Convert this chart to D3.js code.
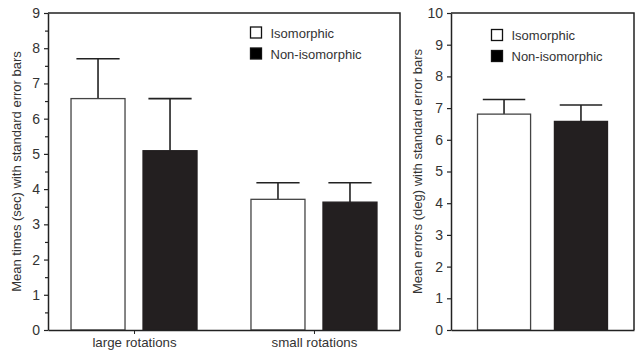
<!DOCTYPE html>
<html>
<head>
<meta charset="utf-8">
<script src="https://cdn.jsdelivr.net/npm/d3@7"></script>
<style>
  body { margin: 0; background: #fff; }
  text { font-family: "Liberation Sans", Arial, sans-serif; fill: #333; }
</style>
</head>
<body>
<svg id="chart" width="639" height="353"></svg>
<script>
///////////////////// DATA /////////////////////////
let groups = ["Isomorphic", "Non-isomorphic"];
let rotations = ["large rotations", "small rotations"];
let time_means = [[6.57, 5.09], [3.71, 3.63]];   // [rotation][group]
let time_upper = [[7.70, 6.57], [4.18, 4.18]];
let time_ticks = [0, 1, 2, 3, 4, 5, 6, 7, 8, 9];
let error_means = [6.81, 6.58];
let error_upper = [7.27, 7.10];
let error_ticks = [0, 1, 2, 3, 4, 5, 6, 7, 8, 9, 10];

let fills = ["#ffffff", "#231f20"];
let ink = "#222";

let svg = d3.select("#chart");

// draws one framed panel; rows = [{cat, means, upper}]
let panel = (opt) => {
    let g = svg.append("g");

    let y_scale = d3.scaleLinear().domain(opt.ydomain).range([opt.bottom, opt.top]);
    let x_scale = d3.scalePoint()
        .domain(opt.cats)
        .range([opt.left, opt.right])
        .padding(opt.outer);
    let sub = d3.scaleBand()
        .domain(groups)
        .range([-opt.half, opt.half])
        .paddingInner(opt.gap);

    // minor ticks (left panel only)
    if (opt.minor) {
        g.append("g")
            .attr("transform", `translate(${opt.left},0)`)
            .call(d3.axisLeft(y_scale).tickValues(opt.minor).tickSize(3).tickFormat(""))
            .call(a => a.select(".domain").remove())
            .selectAll("line").attr("stroke", ink).attr("stroke-width", 1.2);
    }

    let ya = g.append("g")
        .attr("transform", `translate(${opt.left},0)`)
        .call(d3.axisLeft(y_scale).tickValues(opt.ticks).tickSize(4).tickPadding(4).tickSizeOuter(0));
    ya.select(".domain").attr("stroke", ink).attr("stroke-width", 1.5);
    ya.selectAll("line").attr("stroke", ink).attr("stroke-width", 1.2);
    ya.selectAll("text").style("font-size", "14px").attr("fill", "#333");

    // frame top and right
    g.append("path")
        .attr("d", `M${opt.left},${opt.top}H${opt.right}V${opt.bottom}`)
        .attr("fill", "none").attr("stroke", ink).attr("stroke-width", 1.5);

    // bars
    opt.rows.forEach(r => {
        let cx = x_scale(r.cat);
        groups.forEach((gname, i) => {
            let x0 = cx + sub(gname);
            let w = sub.bandwidth();
            let xm = x0 + w / 2;
            // error bar (upward only)
            g.append("line")
                .attr("x1", xm).attr("x2", xm)
                .attr("y1", y_scale(r.means[i])).attr("y2", y_scale(r.upper[i]))
                .attr("stroke", ink).attr("stroke-width", 1.6);
            g.append("line")
                .attr("x1", xm - w * 0.4).attr("x2", xm + w * 0.4)
                .attr("y1", y_scale(r.upper[i])).attr("y2", y_scale(r.upper[i]))
                .attr("stroke", ink).attr("stroke-width", 1.6);
            g.append("rect")
                .attr("x", x0).attr("width", w)
                .attr("y", y_scale(r.means[i]))
                .attr("height", y_scale(0) - y_scale(r.means[i]))
                .attr("fill", fills[i])
                .attr("stroke", i == 0 ? "#444" : fills[i])
                .attr("stroke-width", 1.3);
        });
    });

    // x axis
    let xa = g.append("g")
        .attr("transform", `translate(0,${opt.bottom})`)
        .call(d3.axisBottom(x_scale).tickSize(opt.xtick).tickSizeOuter(0).tickPadding(4));
    xa.select(".domain").attr("stroke", ink).attr("stroke-width", 1.5);
    xa.selectAll("line").attr("stroke", ink);
    xa.selectAll("text").style("font-size", "13.3px").attr("fill", "#333");

    // y label
    g.append("text")
        .attr("transform", `translate(${opt.ylabx},${(opt.top + opt.bottom) / 2}) rotate(-90)`)
        .attr("text-anchor", "middle")
        .style("font-size", "13px")
        .text(opt.ylabel);

    // legend
    groups.forEach((gname, i) => {
        let ly = opt.leg_y + i * 21;
        g.append("rect")
            .attr("x", opt.leg_x).attr("y", ly)
            .attr("width", 11).attr("height", 11)
            .attr("fill", i == 0 ? "#fff" : "#000")
            .attr("stroke", "#111").attr("stroke-width", 1.3);
        g.append("text")
            .attr("x", opt.leg_x + 20).attr("y", ly + 10.5)
            .style("font-size", "13px")
            .text(gname);
    });
};

panel({
    left: 48, right: 400, top: 13, bottom: 330,
    ydomain: [0, 9], ticks: time_ticks,
    minor: time_ticks.slice(0, -1).map(t => t + 0.5),
    cats: rotations, outer: 0.478, half: 63, gap: 0.25, xtick: 4,
    rows: rotations.map((c, i) => ({cat: c, means: time_means[i], upper: time_upper[i]})),
    ylabel: "Mean times (sec) with standard error bars", ylabx: 21,
    leg_x: 250.5, leg_y: 27
});

panel({
    left: 451, right: 634, top: 13, bottom: 330,
    ydomain: [0, 10], ticks: error_ticks, minor: null,
    cats: [""], outer: 0.5, half: 65, gap: 0.31, xtick: 0,
    rows: [{cat: "", means: error_means, upper: error_upper}],
    ylabel: "Mean errors (deg) with standard error bars", ylabx: 422,
    leg_x: 491.5, leg_y: 29.5
});
</script>
</body>
</html>
